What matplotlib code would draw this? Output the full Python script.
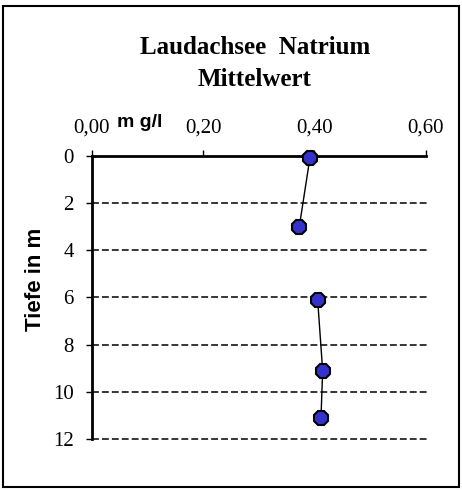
import matplotlib
matplotlib.use("Agg")
import matplotlib.pyplot as plt
from matplotlib.patches import Rectangle
from matplotlib.ticker import FuncFormatter

nan = float("nan")

# Natrium-Mittelwerte (mg/l) je Tiefe (m); Lücke zwischen 3 m und 6 m
tiefe = [0.1, 3.0, nan, 6.1, 9.1, 11.1]
natrium = [0.392, 0.373, nan, 0.406, 0.415, 0.412]

x_ticks = [0.0, 0.2, 0.4, 0.6]
y_ticks = [0, 2, 4, 6, 8, 10, 12]

fig = plt.figure(figsize=(4.62, 4.9), dpi=100)
ax = fig.add_axes([0.199, 0.104, 0.722, 0.578])

# Rahmen um das Diagramm
fig.patches.append(Rectangle((0.006, 0.006), 0.988, 0.982, transform=fig.transFigure,
                             fill=False, edgecolor="black", linewidth=1.5))

for y in y_ticks[1:]:
    ax.axhline(y, xmax=1.005, color="black", linestyle=(0, (4.5, 2)), linewidth=1.1,
               zorder=1, clip_on=False)

ax.plot(natrium, tiefe, color="black", linewidth=1.0, marker="8", markersize=11.5,
        markerfacecolor="#3333cc", markeredgecolor="black", markeredgewidth=1.5,
        zorder=3, clip_on=False)

ax.set_xlim(0, 0.6)
ax.set_ylim(12, 0)
ax.set_xticks(x_ticks)
ax.set_yticks(y_ticks)
ax.xaxis.tick_top()
ax.xaxis.set_major_formatter(FuncFormatter(lambda v, p: f"{v:.2f}".replace(".", ",")))
ax.tick_params(axis="x", direction="out", length=4, width=1, pad=9)
ax.tick_params(axis="y", direction="out", length=4, width=1, pad=9)
for lbl in ax.get_xticklabels() + ax.get_yticklabels():
    lbl.set_fontfamily("Liberation Serif")
    lbl.set_fontsize(15)

ax.spines["right"].set_visible(False)
ax.spines["bottom"].set_visible(False)
ax.spines["top"].set_linewidth(2)
ax.spines["left"].set_linewidth(2)

fig.text(0.552, 0.904, "Laudachsee  Natrium", ha="center", va="center",
         fontfamily="Liberation Serif", fontweight="bold", fontsize=18)
fig.text(0.552, 0.838, "Mittelwert", ha="center", va="center",
         fontfamily="Liberation Serif", fontweight="bold", fontsize=18)
fig.text(0.302, 0.751, "m g/l", ha="center", va="center",
         fontfamily="Liberation Sans", fontweight="bold", fontsize=14)
fig.text(0.076, 0.429, "Tiefe in m", ha="center", va="center", rotation=90,
         fontfamily="Liberation Sans", fontweight="bold", fontsize=16)

fig.savefig("out.png", dpi=100)
